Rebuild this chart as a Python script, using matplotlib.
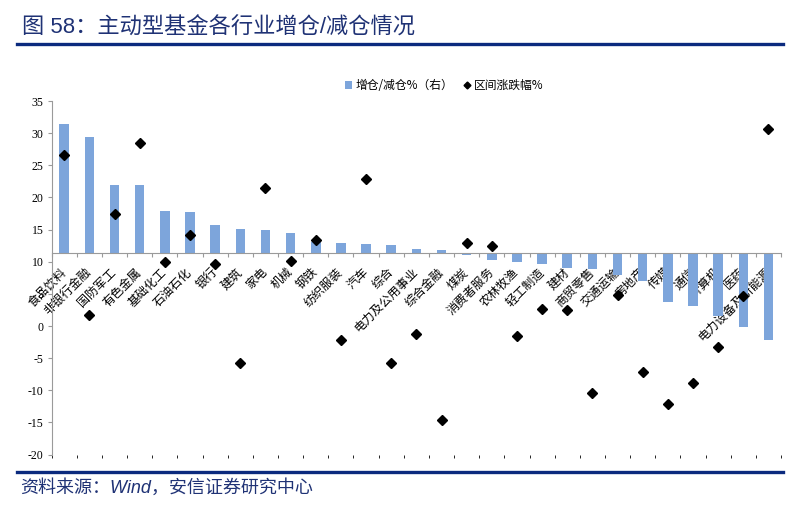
import matplotlib
matplotlib.use("Agg")
import matplotlib.pyplot as plt
from matplotlib.lines import Line2D
from matplotlib.patches import Patch

plt.rcParams['font.family'] = ['Noto Sans CJK SC', 'DejaVu Sans']

categories = ["食品饮料", "非银行金融", "国防军工", "有色金属", "基础化工", "石油石化", "银行",
              "建筑", "家电", "机械", "钢铁", "纺织服装", "汽车", "综合", "电力及公用事业",
              "综合金融", "煤炭", "消费者服务", "农林牧渔", "轻工制造", "建材", "商贸零售",
              "交通运输", "房地产", "传媒", "通信", "计算机", "医药", "电力设备及新能源"]

# 增仓/减仓% (right axis)
position_change = [2.01, 1.81, 1.06, 1.06, 0.66, 0.64, 0.44, 0.38, 0.36, 0.32, 0.18, 0.16,
                   0.15, 0.13, 0.07, 0.06, -0.03, -0.10, -0.13, -0.17, -0.22, -0.24, -0.33,
                   -0.43, -0.76, -0.82, -0.97, -1.14, -1.35]

# 区间涨跌幅% (left axis)
price_change = [26.6, 1.7, 17.5, 28.4, 9.9, 14.1, 9.6, -5.8, 21.4, 10.1, 13.4, -2.1, 22.8,
                -5.8, -1.2, -14.6, 12.9, 12.4, -1.5, 2.6, 2.5, -10.4, 4.8, -7.1, -12.1, -8.9,
                -3.3, 4.6, 30.6]

left_ticks = [35, 30, 25, 20, 15, 10, 5, 0, -5, -10, -15, -20]

NAVY = '#1F3275'
LINE = '#0B2A7E'
BAR = '#7DA5DB'
GRAY = '#9A9A9A'

fig = plt.figure(figsize=(7.99, 5.29), dpi=100)
ax = fig.add_axes([0.0647, 0.1406, 0.9128, 0.6684])
ax2 = ax.twinx()

x = list(range(len(categories)))

# left axis
ylo, yhi = -20, 35
ax.set_ylim(ylo, yhi)
ax.set_xlim(-0.5, len(categories) - 0.5)
ax.set_yticks(left_ticks)
ax.set_yticklabels([str(t) for t in left_ticks], family='Liberation Serif', fontsize=8.5)
ax.tick_params(axis='y', direction='out', length=3, width=0.8, color=GRAY, pad=3)
for s in ['top', 'right', 'bottom']:
    ax.spines[s].set_visible(False)
ax.spines['left'].set_color(GRAY)
ax.spines['left'].set_linewidth(0.8)
ax.tick_params(axis='x', bottom=False, labelbottom=False)

# right axis (hidden) — zero aligned at left value ~11.3
base = 11.3
ax2.set_ylim((ylo - base) / 10, (yhi - base) / 10)
bars = ax2.bar(x, position_change, width=0.38, color=BAR, zorder=2)
ax2.yaxis.set_visible(False)
for s in ['top', 'right', 'left']:
    ax2.spines[s].set_visible(False)
ax2.xaxis.set_visible(True)
ax2.spines['bottom'].set_position(('data', 0))
ax2.spines['bottom'].set_color(GRAY)
ax2.spines['bottom'].set_linewidth(0.8)
ax2.set_xticks(x)
ax2.set_xticklabels(categories, rotation=45, ha='right', rotation_mode='anchor', fontsize=8.7)
for lab in ax2.get_xticklabels():
    lab.set_va('center')
ax2.set_xticks([i - 0.5 for i in range(len(categories) + 1)], minor=True)
ax2.tick_params(axis='x', which='major', length=0, pad=12)
ax2.tick_params(axis='x', which='minor', length=3, width=0.8, color=GRAY, direction='out')
ax2.set_xlim(-0.5, len(categories) - 0.5)

# diamonds on top
ax.set_zorder(ax2.get_zorder() + 1)
ax.patch.set_visible(False)
ax.plot(x, price_change, linestyle='none', marker='D', markersize=5, color='black', zorder=3)

handles = [Patch(facecolor=BAR, edgecolor='none'),
           Line2D([], [], linestyle='none', marker='D', markersize=3.5, color='black')]
leg = fig.legend(handles, ['增仓/减仓%（右）', '区间涨跌幅%'], ncol=2, frameon=False,
                 loc='center left', bbox_to_anchor=(0.418, 0.838), fontsize=8.5,
                 handlelength=0.6, handleheight=0.6, handletextpad=0.3, columnspacing=0.9)

# title & source
fig.text(0.027, 1 - 28 / 529, '图 58：主动型基金各行业增仓/减仓情况', color=NAVY, fontsize=16,
         family=['Liberation Sans', 'Noto Sans CJK SC'], va='center', ha='left')
fig.add_artist(Line2D([0.021, 0.980], [1 - 43.5 / 529] * 2, transform=fig.transFigure,
                      color=LINE, linewidth=2.4))
fig.add_artist(Line2D([0.021, 0.980], [1 - 472 / 529] * 2, transform=fig.transFigure,
                      color=LINE, linewidth=2.4))
fig.text(0.025, 1 - 488 / 529, '资料来源：Wind，安信证券研究中心', color=NAVY, fontsize=13,
         family=['Liberation Sans', 'Noto Sans CJK SC'], style='italic', va='center', ha='left')

fig.savefig('out.png', dpi=100)
